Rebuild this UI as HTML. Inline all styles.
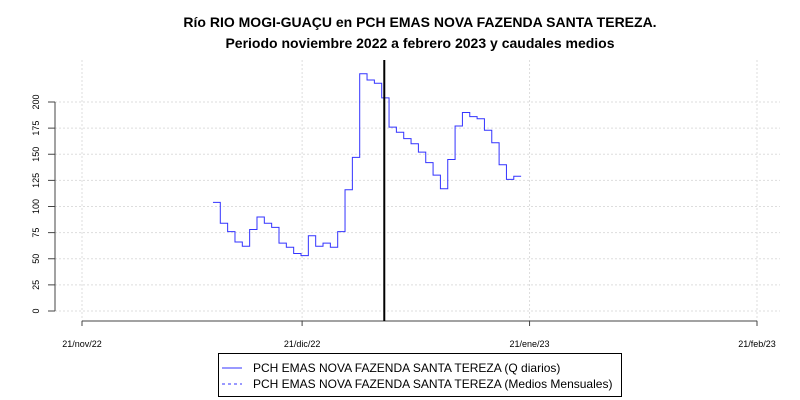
<!DOCTYPE html>
<html><head><meta charset="utf-8"><style>
body{margin:0;background:#fff}
svg{display:block;font-family:"Liberation Sans",sans-serif}
</style></head><body>
<svg id="chart" width="800" height="400" viewBox="0 0 800 400">
<text x="420" y="27" text-anchor="middle" font-weight="bold" font-size="14">Río RIO MOGI-GUAÇU en PCH EMAS NOVA FAZENDA SANTA TEREZA.</text>
<text x="420" y="48" text-anchor="middle" font-weight="bold" font-size="14">Periodo noviembre 2022 a febrero 2023 y caudales medios</text>
<g id="grid"></g><g id="axes"></g><g id="series"></g>
<g>
<rect x="218.5" y="353.5" width="403" height="43" fill="#fff" stroke="#000"/>
<line x1="222" y1="368" x2="242" y2="368" stroke="#3333ff"/>
<text x="253" y="372" font-size="12">PCH EMAS NOVA FAZENDA SANTA TEREZA (Q diarios)</text>
<line x1="222" y1="384" x2="242" y2="384" stroke="#3333ff" stroke-dasharray="3,3"/>
<text x="253" y="388" font-size="12">PCH EMAS NOVA FAZENDA SANTA TEREZA (Medios Mensuales)</text>
</g>
</svg>
<script>
const yTicks=[0,25,50,75,100,125,150,175,200];
const xTickLabels=["21/nov/22","21/dic/22","21/ene/23","21/feb/23"];
const xTickDays=[0,30,61,92];
const startDay=17.85;
const dailyQ=[104,84,76,66,62,78,90,84,80,65,61,55,53,72,62,65,61,76,116,147,227,221,218,204,176,171,165,160,152,142,130,117,145,177,190,186,184,173,161,140,126,129];
const markerDay=41.2;
const NS="http://www.w3.org/2000/svg";
const xS=d=>82+d*(757-82)/92;
const yS=v=>311-v*(311-102)/200;
function mk(tag,attrs,parent){const e=document.createElementNS(NS,tag);for(const k in attrs)e.setAttribute(k,attrs[k]);parent.appendChild(e);return e;}
const grid=document.getElementById('grid'),axes=document.getElementById('axes'),ser=document.getElementById('series');
yTicks.forEach(v=>{
 const l=mk('line',{x1:55,x2:780,y1:yS(v),y2:yS(v),stroke:'#ddd','stroke-dasharray':'2,2'},grid);
 
 
 const t=mk('line',{x1:48,x2:55,y1:yS(v),y2:yS(v),stroke:'#444'},axes);
 
 
 const tx=mk('text',{x:0,y:0,transform:`translate(39,${yS(v)}) rotate(-90)`,'text-anchor':'middle','font-size':9},axes);
 tx.textContent=v;
 
 
});
const ya=mk('line',{x1:55,x2:55,y1:yS(200),y2:yS(0),stroke:'#444'},axes);


xTickDays.forEach((d,i)=>{
 const g=mk('line',{x1:xS(d),x2:xS(d),y1:60,y2:321,stroke:'#ddd','stroke-dasharray':'2,2'},grid);
 
 
 const t=mk('line',{x1:xS(d),x2:xS(d),y1:321,y2:326,stroke:'#444'},axes);
 
 
 const tx=mk('text',{x:xS(d),y:347,'text-anchor':'middle','font-size':9},axes);
 tx.textContent=xTickLabels[i];
 
 
});
const xa=mk('line',{x1:xS(0),x2:xS(92),y1:321,y2:321,stroke:'#444'},axes);


let p='';
dailyQ.forEach((v,i)=>{const x0=xS(startDay+i),x1=xS(startDay+i+1),y=yS(v);p+=(i?'L':'M')+x0+','+y+'L'+x1+','+y;});
const line=mk('path',{d:p,fill:'none',stroke:'#3333ff','stroke-width':1},ser);


const m=mk('line',{x1:xS(markerDay),x2:xS(markerDay),y1:60,y2:321,stroke:'#000','stroke-width':2},ser);


</script>
</body></html>
